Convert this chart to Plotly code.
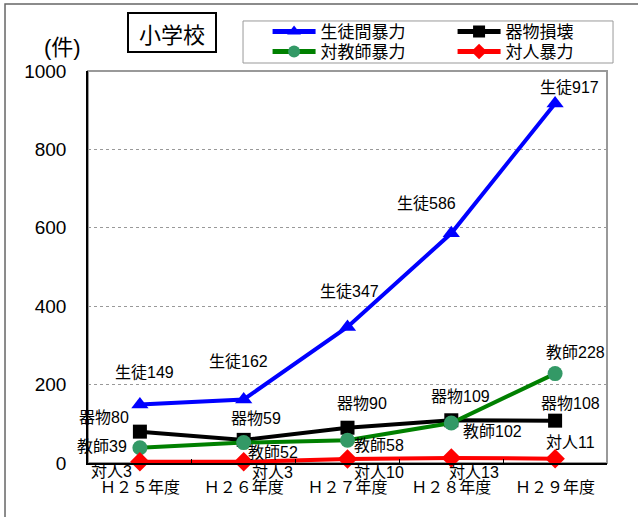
import plotly.graph_objects as go

# ---- data ----
years = ["Ｈ２５年度", "Ｈ２６年度", "Ｈ２７年度", "Ｈ２８年度", "Ｈ２９年度"]
seito = [149, 162, 347, 586, 917]      # 生徒間暴力
kibutsu = [80, 59, 90, 109, 108]       # 器物損壊
kyoshi = [39, 52, 58, 102, 228]        # 対教師暴力
taijin = [3, 3, 10, 13, 11]            # 対人暴力

series_names = ["生徒間暴力", "器物損壊", "対教師暴力", "対人暴力"]
label_prefix = ["生徒", "器物", "教師", "対人"]
y_ticks = [0, 200, 400, 600, 800, 1000]

# ---- label placement (pixel offsets relative to each point) ----
label_offsets = {
    0: [(5, 32), (-5, 38), (2, 35), (-25, 30), (14, 16)],
    1: [(-36, 14), (12, 21), (14, 24), (9, 24), (15, 17)],
    2: [(-38, 1), (29, -10), (31, -5), (41, -8), (20, 21)],
    3: [(-28, -10), (29, -11), (31, -13), (23, -15), (15, 16)],
}

JP = "Liberation Sans, Noto Sans CJK JP, sans-serif"
JPF = "Noto Sans CJK JP, sans-serif"

fig = go.Figure()
all_series = [seito, kibutsu, kyoshi, taijin]
styles = [
    dict(line=dict(color="#0000FF", width=4),
         marker=dict(symbol="triangle-up", size=15, color="#0000FF"), legend="legend"),
    dict(line=dict(color="#000000", width=4),
         marker=dict(symbol="square", size=14, color="#000000"), legend="legend"),
    dict(line=dict(color="#008000", width=4),
         marker=dict(symbol="circle", size=15, color="#339966"), legend="legend2"),
    dict(line=dict(color="#FF0000", width=4),
         marker=dict(symbol="diamond", size=15, color="#FF0000"), legend="legend2"),
]
for name, vals, st in zip(series_names, all_series, styles):
    fig.add_trace(go.Scatter(x=years, y=vals, name=name, mode="lines+markers",
                             line=st["line"], marker=st["marker"], legend=st["legend"],
                             cliponaxis=False))

annotations = []
for si, (pref, vals) in enumerate(zip(label_prefix, all_series)):
    for i, (yr, v) in enumerate(zip(years, vals)):
        dx, dy = label_offsets[si][i]
        annotations.append(dict(x=yr, y=v, xref="x", yref="y", text=f"{pref}{v}",
                                showarrow=False, xshift=dx, yshift=dy,
                                xanchor="center", yanchor="middle",
                                font=dict(family=JP, size=16, color="black")))

# title box
annotations.append(dict(x=0.161, y=1.097, xref="paper", yref="paper", text="小学校",
                        xanchor="center", yanchor="middle",
                        showarrow=False, font=dict(family=JPF, size=22, color="black"),
                        bordercolor="black", borderwidth=2, borderpad=0,
                        width=86, height=37, bgcolor="white"))
# unit label
annotations.append(dict(x=-0.05, y=1.06, xref="paper", yref="paper", text="(件)",
                        xanchor="center", yanchor="middle",
                        showarrow=False, font=dict(family=JP, size=22, color="black")))

shapes = [
    # outer frame
    dict(type="rect", xref="paper", yref="paper", x0=-0.1599, x1=1.2, y0=-0.3, y1=1.1709,
         line=dict(color="#666666", width=1.5), layer="below"),
    # plot area frame
    dict(type="rect", xref="paper", yref="paper", x0=0, x1=1, y0=0, y1=1,
         line=dict(color="#999999", width=2), layer="below"),
    # legend box
    dict(type="rect", xref="paper", yref="paper", x0=0.2987, x1=1.0116, y0=1.0204, y1=1.1276,
         line=dict(color="#999999", width=1), fillcolor="white", layer="below"),
]

legend_common = dict(orientation="h", xanchor="left", yanchor="middle",
                     font=dict(family=JPF, size=17, color="black"),
                     bgcolor="rgba(0,0,0,0)", borderwidth=0, itemwidth=43,
                     entrywidth=127, entrywidthmode="pixels", itemsizing="constant")

fig.update_layout(
    width=638, height=517,
    margin=dict(l=88, r=31, t=71, b=54, autoexpand=False),
    paper_bgcolor="white", plot_bgcolor="white",
    showlegend=True,
    legend=dict(x=0.346, y=1.0995, **legend_common),
    legend2=dict(x=0.346, y=1.0485, **legend_common),
    annotations=annotations,
    shapes=shapes,
    xaxis=dict(range=[-0.5, len(years) - 0.5], showline=True, linecolor="black",
               linewidth=1.5, showgrid=False,
               ticks="inside", tickson="boundaries", ticklen=4, tickcolor="black",
               tickfont=dict(family=JPF, size=16, color="black"), tickangle=0,
               ticklabelstandoff=9, zeroline=False, automargin=False),
    yaxis=dict(range=[0, 1000], tickvals=y_ticks, showline=True, linecolor="black",
               linewidth=1.5, showgrid=True, gridcolor="#999999", griddash="dot",
               gridwidth=1, ticks="", zeroline=False, automargin=False,
               tickfont=dict(family="Liberation Sans, sans-serif", size=19, color="black"),
               ticklabelstandoff=16),
)

fig.write_html("out.html", config={"displayModeBar": False},
               post_script="document.body.style.margin='0';")
